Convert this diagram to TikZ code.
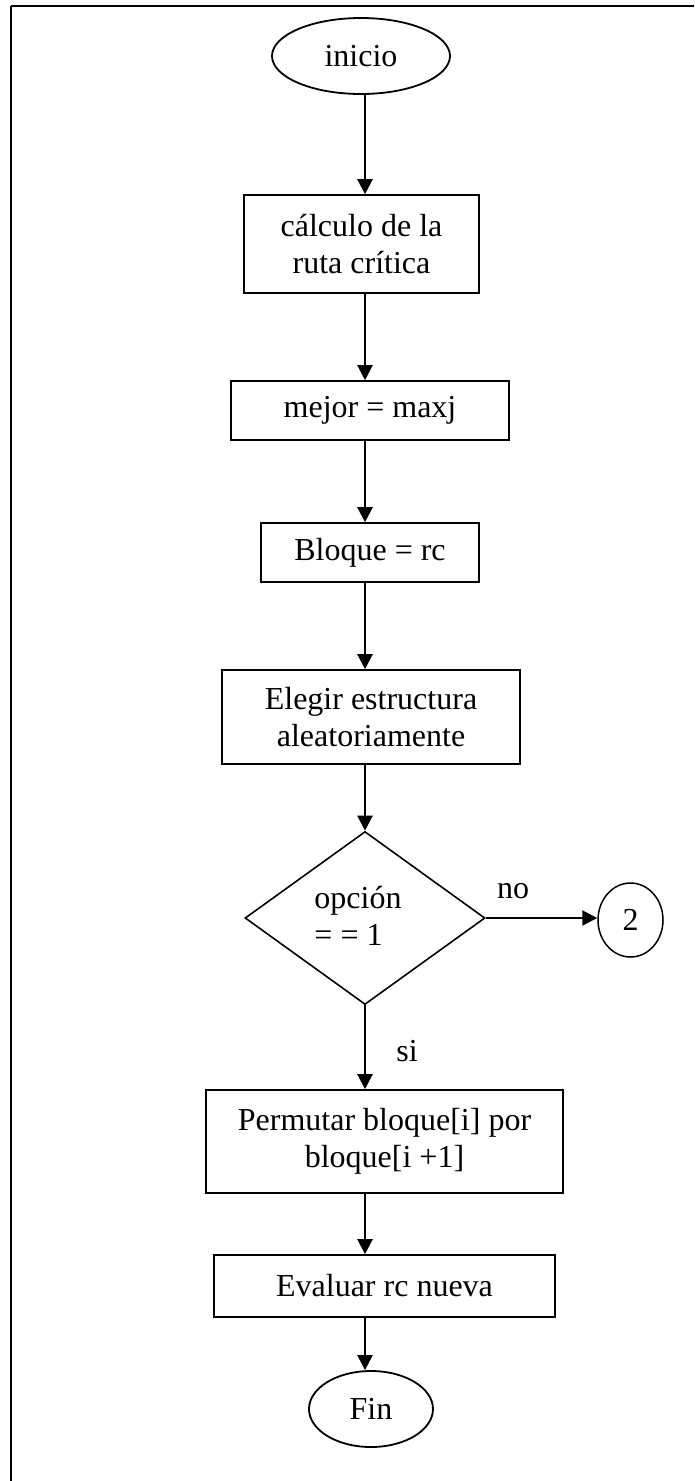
\documentclass[tikz,border=0pt]{standalone}
\usepackage{fontspec}
\setmainfont{Liberation Serif}
\usetikzlibrary{shapes.geometric,arrows.meta}
\tikzset{
  texto/.style={font=\fontsize{32}{37}\selectfont},
  caja/.style={texto,draw,line width=1.6pt,rectangle,align=center,inner sep=0pt},
  terminal/.style={texto,draw,line width=1.8pt,ellipse,inner sep=0pt},
  decision/.style={draw,line width=1.6pt,diamond,inner sep=0pt},
  flecha/.style={line width=2.2pt,-{Triangle[length=15pt,width=15pt]}}
}
\begin{document}
\begin{tikzpicture}[x=1pt,y=-1pt]
\useasboundingbox (0,0) rectangle (694,1481);
\draw[line width=2.6pt] (11,6) -- (694,6);
\draw[line width=1.6pt] (11,6) -- (11,1481);
\coordinate (eje) at (365,0);
\node[terminal,minimum width=178pt,minimum height=76pt] (inicio) at (361,56) {inicio};
\node[caja,minimum width=235pt,minimum height=98pt] (calculo) at (361.5,244) {cálculo de la\\ruta crítica};
\node[caja,minimum width=278pt,minimum height=59pt] (mejor) at (370,410.5) {mejor = maxj};
\node[caja,minimum width=218pt,minimum height=59pt] (bloque) at (370,552.5) {Bloque = rc};
\node[caja,minimum width=298pt,minimum height=94pt] (elegir) at (371,717) {Elegir estructura\\aleatoriamente};
\node[decision,minimum width=240pt,minimum height=173pt] (opcion) at (365,918) {};
\node[texto,align=left,inner sep=0pt] (opciontxt) at (358,916) {opción\\= = 1};
\node[terminal,line width=1.5pt,minimum width=65pt,minimum height=74pt] (dos) at (630.5,920) {2};
\node[texto,inner sep=0pt] (no) at (513,891) {no};
\node[texto,inner sep=0pt] (si) at (407,1051) {si};
\node[caja,minimum width=357pt,minimum height=103pt] (permutar) at (384.5,1141.5) {Permutar bloque[i] por\\bloque[i +1]};
\node[caja,minimum width=341pt,minimum height=62pt] (evaluar) at (384.5,1286) {Evaluar rc nueva};
\node[terminal,minimum width=124pt,minimum height=76pt] (fin) at (371,1409) {Fin};
\draw[flecha] (eje |- inicio.south) -- (eje |- calculo.north);
\draw[flecha] (eje |- calculo.south) -- (eje |- mejor.north);
\draw[flecha] (eje |- mejor.south) -- (eje |- bloque.north);
\draw[flecha] (eje |- bloque.south) -- (eje |- elegir.north);
\draw[flecha] (eje |- elegir.south) -- (opcion.north);
\draw[flecha] (opcion.east) -- (opcion.east -| dos.west);
\draw[flecha] (opcion.south) -- (eje |- permutar.north);
\draw[flecha] (eje |- permutar.south) -- (eje |- evaluar.north);
\draw[flecha] (eje |- evaluar.south) -- (eje |- fin.north);
\end{tikzpicture}
\end{document}
